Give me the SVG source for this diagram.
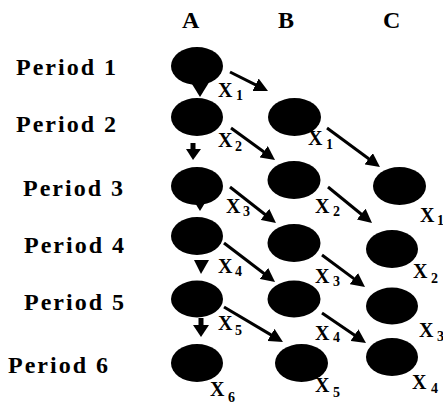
<svg xmlns="http://www.w3.org/2000/svg" width="443" height="404" viewBox="0 0 443 404">
<defs>
<style>
.hdr{font-family:"Liberation Serif","Times New Roman",serif;font-weight:bold;font-size:24px;fill:#000}
.per{font-family:"Liberation Serif","Times New Roman",serif;font-weight:bold;font-size:24px;letter-spacing:2px;fill:#000}
.x{font-family:"Liberation Serif","Times New Roman",serif;font-weight:bold;font-size:20px;fill:#000}
.s{font-size:14px}
.node{fill:#000}
.arr{stroke:#000;stroke-width:3;fill:none;marker-end:url(#ah)}
.head{fill:#000}
</style>
<marker id="ah" markerUnits="userSpaceOnUse" markerWidth="14" markerHeight="14" refX="3" refY="7" orient="auto">
<path d="M0,0 L14,7 L0,14 z" fill="#000"/>
</marker>
</defs>
<rect width="443" height="404" fill="#fff"/>
<g id="headers">
<text class="hdr" x="182" y="28">A</text>
<text class="hdr" x="278" y="28">B</text>
<text class="hdr" x="383" y="28">C</text>
</g>
<g id="periods">
<text class="per" x="16" y="75">Period 1</text>
<text class="per" x="16" y="132">Period 2</text>
<text class="per" x="23" y="196">Period 3</text>
<text class="per" x="24" y="253">Period 4</text>
<text class="per" x="24" y="310">Period 5</text>
<text class="per" x="8" y="373">Period 6</text>
</g>
<g id="connectors">
<line class="arr" x1="230" y1="72" x2="258.2" y2="86.1"/>
<line class="arr" x1="231" y1="128" x2="266.1" y2="153.5"/>
<line class="arr" x1="327" y1="128" x2="371.1" y2="160.5"/>
<line class="arr" x1="230" y1="187" x2="267.3" y2="216.2"/>
<line class="arr" x1="328" y1="187" x2="363.5" y2="216"/>
<line class="arr" x1="224" y1="243" x2="266.3" y2="275.3"/>
<line class="arr" x1="322" y1="255" x2="356.2" y2="280.4"/>
<line class="arr" x1="224" y1="307" x2="273.5" y2="336.4"/>
<line class="arr" x1="322" y1="313" x2="356.9" y2="336.8"/>
<polygon class="head" points="189.5,80 210.5,80 200,97"/>
<rect x="190.5" y="143" width="5" height="7" fill="#000"/>
<polygon class="head" points="186,149 201,149 193,160"/>
<polygon class="head" points="189.5,194 210.5,194 200,211"/>
<polygon class="head" points="194,260 209,260 201,274"/>
<rect x="198.5" y="318" width="5" height="8" fill="#000"/>
<polygon class="head" points="193,325 209,325 201,337"/>
</g>
<g id="A1"><ellipse class="node" cx="197" cy="66" rx="26" ry="19"/><text class="x" x="218" y="97">X<tspan class="s" x="236" y="100">1</tspan></text></g>
<g id="A2"><ellipse class="node" cx="197" cy="117" rx="26" ry="19"/><text class="x" x="218" y="147">X<tspan class="s" x="235" y="151">2</tspan></text></g>
<g id="B2"><ellipse class="node" cx="294.5" cy="117" rx="26.5" ry="19"/><text class="x" x="308" y="145">X<tspan class="s" x="326" y="149">1</tspan></text></g>
<g id="A3"><ellipse class="node" cx="197" cy="186" rx="26" ry="19"/><text class="x" x="226" y="213">X<tspan class="s" x="243" y="216">3</tspan></text></g>
<g id="B3"><ellipse class="node" cx="294" cy="180" rx="26.5" ry="19"/><text class="x" x="315" y="213">X<tspan class="s" x="333" y="216">2</tspan></text></g>
<g id="C3"><ellipse class="node" cx="399.5" cy="186" rx="26.5" ry="19"/><text class="x" x="420" y="222">X<tspan class="s" x="437" y="225">1</tspan></text></g>
<g id="A4"><ellipse class="node" cx="197" cy="236" rx="26" ry="19"/><text class="x" x="218" y="273">X<tspan class="s" x="235" y="276">4</tspan></text></g>
<g id="B4"><ellipse class="node" cx="294" cy="243" rx="26.5" ry="19"/><text class="x" x="315" y="283">X<tspan class="s" x="333" y="286">3</tspan></text></g>
<g id="C4"><ellipse class="node" cx="392" cy="249" rx="26" ry="19"/><text class="x" x="413" y="278">X<tspan class="s" x="431" y="283">2</tspan></text></g>
<g id="A5"><ellipse class="node" cx="197" cy="299" rx="26" ry="18.5"/><text class="x" x="218" y="330">X<tspan class="s" x="235" y="335">5</tspan></text></g>
<g id="B5"><ellipse class="node" cx="294" cy="299" rx="26.5" ry="18.5"/><text class="x" x="315" y="340">X<tspan class="s" x="333" y="342">4</tspan></text></g>
<g id="C5"><ellipse class="node" cx="392" cy="306" rx="26" ry="18.5"/><text class="x" x="419" y="337">X<tspan class="s" x="437" y="341">3</tspan></text></g>
<g id="A6"><ellipse class="node" cx="197" cy="363" rx="26" ry="19"/><text class="x" x="210" y="396">X<tspan class="s" x="228" y="402">6</tspan></text></g>
<g id="B6"><ellipse class="node" cx="301.5" cy="363" rx="26.5" ry="19"/><text class="x" x="315" y="392">X<tspan class="s" x="333" y="397">5</tspan></text></g>
<g id="C6"><ellipse class="node" cx="392" cy="357" rx="26" ry="19"/><text class="x" x="412" y="389">X<tspan class="s" x="431" y="393">4</tspan></text></g>
</svg>
